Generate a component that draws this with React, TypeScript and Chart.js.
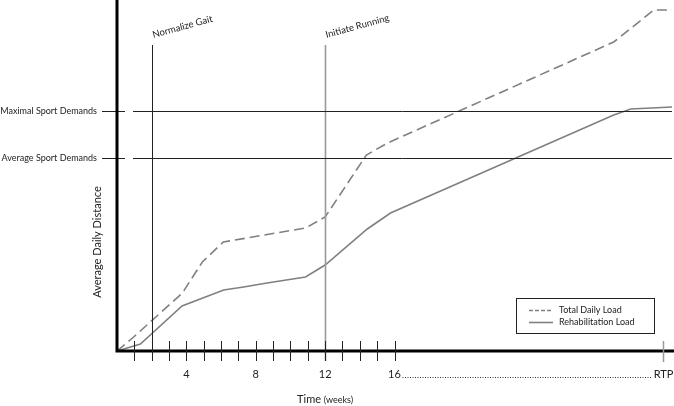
import React, { useEffect, useRef } from "react";
import { Chart, registerables } from "chart.js";

Chart.register(...registerables);

// Weeks (x) and relative average daily distance (y, arbitrary units)
const totalWeeks = [0, 0.96, 3.77, 4.92, 6.13, 10.87, 12, 14.38, 15.6, 28.64, 30.95, 32];
const totalLoad = [0, 14, 58, 89, 109, 123, 134, 196, 208, 309, 341, 341];
const rehabWeeks = [0, 1.35, 3.75, 6.15, 7.3, 8.65, 10.87, 12, 14.43, 15.77, 28.64, 29.62, 32];
const rehabLoad = [0, 7, 45, 61, 64, 68, 74, 86, 122, 138, 236, 242, 244];

const tickWeeks = [1, 2, 3, 4, 5, 6, 7, 8, 9, 10, 11, 12, 13, 14, 15, 16];
const labeledWeeks = [4, 8, 12, 16];
const rtpWeek = 31.5;

const milestoneWeeks = [2, 12];
const milestoneLabels = ["Normalize Gait", "Initiate Running"];
const milestoneColors = ["#222222", "#9a9a9a"];

const demandLabels = ["Maximal Sport Demands", "Average Sport Demands"];
const demandValues = [240, 193];

const seriesNames = ["Total Daily Load", "Rehabilitation Load"];

const FONT = "Lato, 'Open Sans', sans-serif";

const overlayPlugin = {
  id: "overlay",
  afterDatasetsDraw(chart: any) {
    const ctx = chart.ctx as CanvasRenderingContext2D;
    const xs = chart.scales.x;
    const ys = chart.scales.y;
    const area = chart.chartArea;
    const x0 = xs.getPixelForValue(0);
    const y0 = ys.getPixelForValue(0);
    ctx.save();

    // milestone vertical lines
    milestoneWeeks.forEach((w, i) => {
      const px = Math.round(xs.getPixelForValue(w)) + 0.5;
      ctx.strokeStyle = milestoneColors[i];
      ctx.lineWidth = i === 1 ? 1.6 : 1;
      ctx.beginPath();
      ctx.moveTo(px, 45);
      ctx.lineTo(px, y0 + 10);
      ctx.stroke();
      ctx.save();
      ctx.translate(px + 1, 38);
      ctx.rotate(-0.27);
      ctx.fillStyle = "#222";
      ctx.font = `9.5px ${FONT}`;
      ctx.textAlign = "left";
      ctx.textBaseline = "alphabetic";
      ctx.fillText(milestoneLabels[i], 0, 0);
      ctx.restore();
    });

    // demand horizontal lines
    demandValues.forEach((v, i) => {
      const py = Math.round(ys.getPixelForValue(v)) + 0.5;
      ctx.strokeStyle = "#222";
      ctx.lineWidth = 1;
      ctx.beginPath();
      ctx.moveTo(133, py);
      ctx.lineTo(area.right, py);
      ctx.stroke();
      ctx.beginPath();
      ctx.moveTo(102, py);
      ctx.lineTo(125, py);
      ctx.stroke();
      ctx.fillStyle = "#222";
      ctx.font = `9px ${FONT}`;
      ctx.textAlign = "right";
      ctx.textBaseline = "middle";
      ctx.fillText(demandLabels[i], 97, py);
    });

    // axes
    ctx.strokeStyle = "#000";
    ctx.lineWidth = 3;
    ctx.beginPath();
    ctx.moveTo(x0, 0);
    ctx.lineTo(x0, y0);
    ctx.lineTo(chart.width, y0);
    ctx.stroke();

    // ticks
    ctx.lineWidth = 1;
    ctx.strokeStyle = "#222";
    tickWeeks.forEach((w) => {
      const px = Math.round(xs.getPixelForValue(w)) + 0.5;
      ctx.beginPath();
      ctx.moveTo(px, y0 - 10);
      ctx.lineTo(px, y0 + 10);
      ctx.stroke();
    });
    const rtpX = Math.round(xs.getPixelForValue(rtpWeek)) + 0.5;
    ctx.strokeStyle = "#999";
    ctx.lineWidth = 1.5;
    ctx.beginPath();
    ctx.moveTo(rtpX, y0 - 10);
    ctx.lineTo(rtpX, y0 + 11);
    ctx.stroke();

    // tick labels
    ctx.fillStyle = "#222";
    ctx.font = `11px ${FONT}`;
    ctx.textAlign = "center";
    ctx.textBaseline = "middle";
    labeledWeeks.forEach((w) => {
      ctx.fillText(String(w), xs.getPixelForValue(w), y0 + 23);
    });
    ctx.fillText("RTP", rtpX, y0 + 23);

    // dotted line 16 -> RTP
    ctx.strokeStyle = "#333";
    ctx.lineWidth = 1;
    ctx.setLineDash([1, 1.5]);
    ctx.beginPath();
    ctx.moveTo(xs.getPixelForValue(16) + 8, y0 + 26.5);
    ctx.lineTo(rtpX - 11, y0 + 26.5);
    ctx.stroke();
    ctx.setLineDash([]);

    // x title
    ctx.textAlign = "left";
    ctx.textBaseline = "middle";
    ctx.font = `11px ${FONT}`;
    const t1 = "Time ";
    const t2 = "(weeks)";
    const w1 = ctx.measureText(t1).width;
    ctx.font = `9px ${FONT}`;
    const w2 = ctx.measureText(t2).width;
    const sx = xs.getPixelForValue(12) - (w1 + w2) / 2;
    ctx.font = `11px ${FONT}`;
    ctx.fillText(t1, sx, 399);
    ctx.font = `9px ${FONT}`;
    ctx.fillText(t2, sx + w1, 400);

    // y title
    ctx.save();
    ctx.translate(97, 242);
    ctx.rotate(-Math.PI / 2);
    ctx.font = `11px ${FONT}`;
    ctx.textAlign = "center";
    ctx.textBaseline = "middle";
    ctx.fillText("Average Daily Distance", 0, 0);
    ctx.restore();

    // legend
    ctx.strokeStyle = "#222";
    ctx.lineWidth = 1;
    ctx.strokeRect(516.5, 298.5, 138, 35);
    ctx.font = `9px ${FONT}`;
    ctx.textAlign = "left";
    ctx.textBaseline = "middle";
    [0, 1].forEach((i) => {
      const ly = 310.5 + i * 12;
      ctx.strokeStyle = "#808080";
      ctx.lineWidth = 1.6;
      ctx.setLineDash(i === 0 ? [4, 2] : []);
      ctx.beginPath();
      ctx.moveTo(529, ly);
      ctx.lineTo(553, ly);
      ctx.stroke();
      ctx.setLineDash([]);
      ctx.fillStyle = "#222";
      ctx.fillText(seriesNames[i], 559, ly);
    });

    ctx.restore();
  },
};

export default function App() {
  const ref = useRef<HTMLCanvasElement>(null);
  useEffect(() => {
    document.body.style.margin = "0";
    const chart = new Chart(ref.current as HTMLCanvasElement, {
      type: "line",
      data: {
        datasets: [
          {
            label: seriesNames[0],
            data: totalWeeks.map((w, i) => ({ x: w, y: totalLoad[i] })),
            borderColor: "#808080",
            borderWidth: 1.6,
            borderDash: [10, 5],
            pointRadius: 0,
            tension: 0,
            fill: false,
          },
          {
            label: seriesNames[1],
            data: rehabWeeks.map((w, i) => ({ x: w, y: rehabLoad[i] })),
            borderColor: "#808080",
            borderWidth: 1.6,
            pointRadius: 0,
            tension: 0,
            fill: false,
          },
        ],
      },
      options: {
        responsive: false,
        animation: false,
        layout: { padding: { left: 117, right: 2, top: 0, bottom: 55 } },
        scales: {
          x: { type: "linear", min: 0, max: 32, display: false },
          y: { type: "linear", min: 0, max: 351, display: false },
        },
        plugins: { legend: { display: false }, tooltip: { enabled: false } },
      },
      plugins: [overlayPlugin],
    });
    return () => chart.destroy();
  }, []);
  return <canvas ref={ref} width={674} height={406} style={{ display: "block" }} />;
}
